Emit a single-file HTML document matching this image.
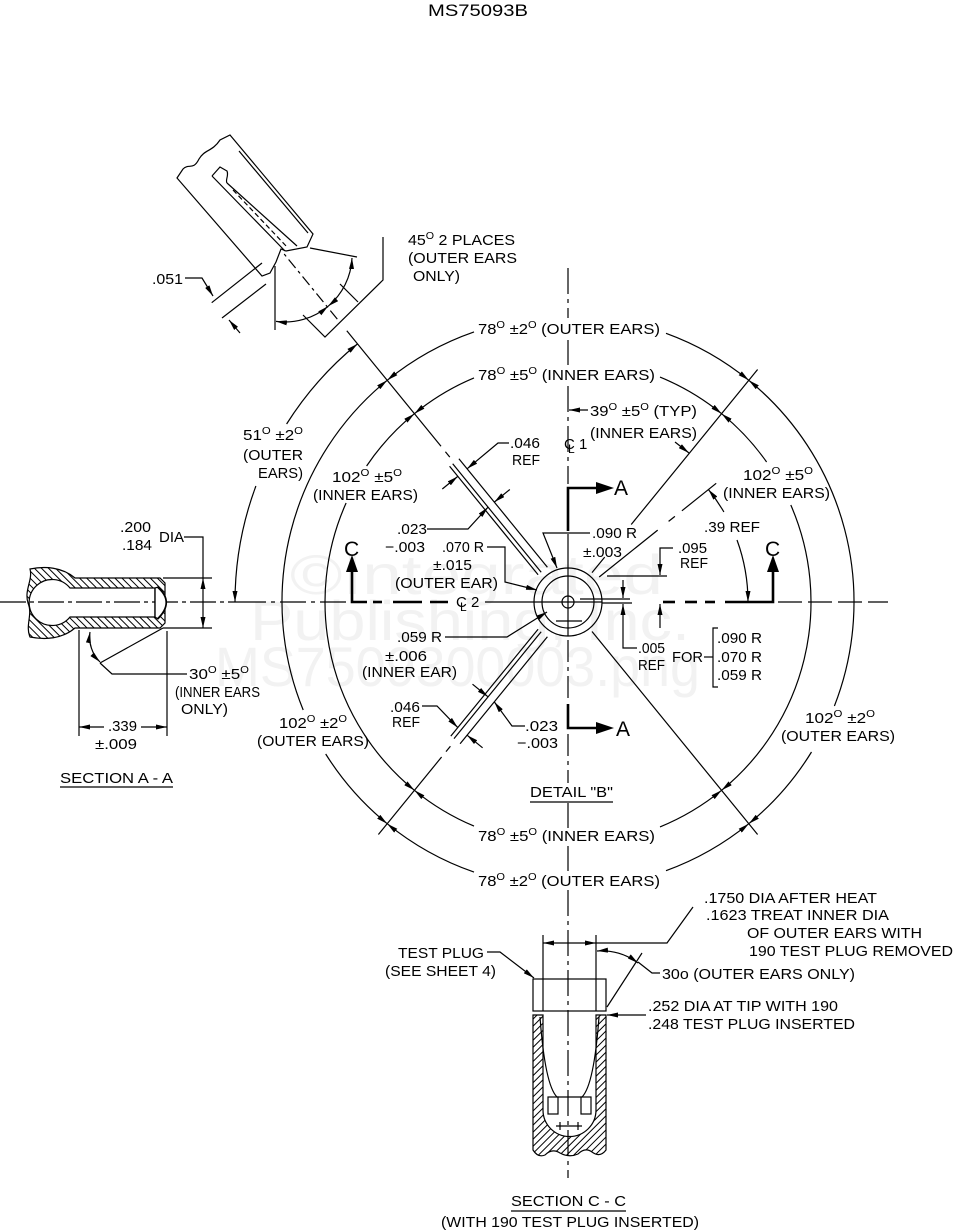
<!DOCTYPE html>
<html><head><meta charset="utf-8"><title>MS75093B</title>
<style>
html,body{margin:0;padding:0;background:#fff;width:953px;height:1231px;overflow:hidden}
svg{display:block}
text{font-family:"Liberation Sans",Arial,sans-serif;font-size:15px;fill:#000;stroke:none}
.wm{fill:#f2f2f2;font-size:56px}
.big{font-size:21px}
</style></head><body>
<svg width="953" height="1231" viewBox="0 0 953 1231" xmlns="http://www.w3.org/2000/svg">
<defs>
<marker id="ar" viewBox="0 0 11 5" refX="11" refY="2.5" markerWidth="11" markerHeight="5" markerUnits="userSpaceOnUse" orient="auto-start-reverse"><path d="M0,0L11,2.5L0,5z" fill="#000"/></marker>
<pattern id="h1" width="5" height="5" patternUnits="userSpaceOnUse" patternTransform="rotate(-45)"><line x1="2.5" y1="0" x2="2.5" y2="5" stroke="#000" stroke-width="1"/></pattern>
<pattern id="h2" width="5" height="5" patternUnits="userSpaceOnUse" patternTransform="rotate(45)"><line x1="2.5" y1="0" x2="2.5" y2="5" stroke="#000" stroke-width="1"/></pattern>
</defs>

<!-- watermark -->
<text class="wm" x="290" y="594" textLength="373" lengthAdjust="spacingAndGlyphs">©Integrated</text>
<text class="wm" x="250" y="640" textLength="440" lengthAdjust="spacingAndGlyphs">Publishing, Inc.</text>
<text class="wm" x="215" y="686" textLength="485" lengthAdjust="spacingAndGlyphs">MS7509300003.png</text>

<!-- title -->
<text x="428" y="16" style="font-size:17px" textLength="100" lengthAdjust="spacingAndGlyphs">MS75093B</text>

<g fill="none" stroke="#000" stroke-width="1.2">
<!-- outer R=286 -->
<path d="M387.2,380.3 A286,286 0 0 1 474,331.9" marker-start="url(#ar)"/>
<path d="M666,333.3 A286,286 0 0 1 748.8,380.3" marker-end="url(#ar)"/>
<path d="M387.2,380.3 A286,286 0 0 0 303.2,710" marker-start="url(#ar)"/>
<path d="M325.7,754 A286,286 0 0 0 387.2,823.7" marker-end="url(#ar)"/>
<path d="M748.8,380.3 A286,286 0 0 1 834.4,706" marker-start="url(#ar)"/>
<path d="M811.5,752 A286,286 0 0 1 748.8,823.7" marker-end="url(#ar)"/>
<path d="M387.2,823.7 A286,286 0 0 0 474,872.1" marker-start="url(#ar)"/>
<path d="M666,870.7 A286,286 0 0 0 748.8,823.7" marker-end="url(#ar)"/>
<!-- inner R=243 -->
<path d="M414.4,413.7 A243,243 0 0 1 474,377.9" marker-start="url(#ar)"/>
<path d="M660,377.1 A243,243 0 0 1 721.6,413.7" marker-end="url(#ar)"/>
<path d="M414.4,413.7 A243,243 0 0 0 366.6,466" marker-start="url(#ar)"/>
<path d="M346.1,503 A243,243 0 0 0 414.4,790.3" marker-end="url(#ar)"/>
<path d="M721.6,413.7 A243,243 0 0 1 766.6,462" marker-start="url(#ar)"/>
<path d="M790.8,505 A243,243 0 0 1 721.6,790.3" marker-end="url(#ar)"/>
<path d="M414.4,790.3 A243,243 0 0 0 474,826.1" marker-start="url(#ar)"/>
<path d="M660,826.9 A243,243 0 0 0 721.6,790.3" marker-end="url(#ar)"/>
<!-- 51 deg arc R=333 -->
<path d="M357.5,343.9 A333,333 0 0 0 286.6,424" marker-start="url(#ar)"/>
<path d="M255.9,486 A333,333 0 0 0 235,602" marker-end="url(#ar)"/>
<!-- .39 REF arc -->
<path d="M708.4,489.5 A180,180 0 0 1 723.9,512" marker-start="url(#ar)"/>
<path d="M737,540 A180,180 0 0 1 748,602" marker-end="url(#ar)"/>
<!-- 39 typ -->
<path d="M588,410 L569,410" marker-end="url(#ar)"/>
<path d="M675,442 L689,453" marker-end="url(#ar)"/>

<!-- NW -->
<line x1="538.1" y1="574.8" x2="449.6" y2="466.3"/>
<line x1="541.2" y1="572.3" x2="452.7" y2="463.8"/>
<line x1="547.4" y1="567.2" x2="458.9" y2="458.7"/>
<line x1="449.8" y1="457.1" x2="445.4" y2="451.7"/>
<line x1="441.0" y1="446.2" x2="346.8" y2="330.8"/>
<line x1="337.3" y1="319.1" x2="283.6" y2="253.3" stroke-dasharray="11 4 3 4"/>
<!-- SW -->
<line x1="538.1" y1="629.2" x2="450.8" y2="736.1"/>
<line x1="541.2" y1="631.7" x2="454.0" y2="738.6"/>
<line x1="547.4" y1="636.8" x2="460.1" y2="743.7"/>
<line x1="450.4" y1="746.2" x2="446.0" y2="751.6"/>
<line x1="441.6" y1="757.0" x2="378.4" y2="834.5"/>
<!-- SE -->
<line x1="592.0" y1="631.5" x2="757.6" y2="834.5"/>
<!-- NE 51 -->
<line x1="592.0" y1="572.6" x2="604.7" y2="557.1"/>
<line x1="631.2" y1="524.5" x2="757.6" y2="369.5"/>
<!-- NE 39 -->
<line x1="599.2" y1="577.0" x2="657.7" y2="530.1"/>
<line x1="668.6" y1="521.4" x2="674.9" y2="516.4"/>
<line x1="681.9" y1="510.8" x2="716.2" y2="483.3"/>

<!-- detail circle -->
<circle cx="568" cy="602" r="34"/>
<circle cx="568" cy="602" r="26"/>
<circle cx="568" cy="602" r="6"/>
<line x1="556" y1="621" x2="582" y2="621"/>

<!-- center lines -->
<line x1="568" y1="268" x2="568" y2="318" stroke-dasharray="26 5 4 5"/>
<line x1="568" y1="340" x2="568" y2="365"/>
<line x1="568" y1="386" x2="568" y2="484" stroke-dasharray="26 5 4 5"/>
<line x1="568" y1="534" x2="568" y2="636"/>
<line x1="568" y1="640" x2="568" y2="702" stroke-dasharray="22 5 4 5"/>
<line x1="568" y1="734" x2="568" y2="783" stroke-dasharray="22 5 4 5"/>
<line x1="568" y1="803" x2="568" y2="828"/>
<line x1="568" y1="846" x2="568" y2="871"/>
<line x1="568" y1="890" x2="568" y2="1178" stroke-dasharray="26 5 4 5"/>

<line x1="0" y1="602" x2="240" y2="602" stroke-dasharray="26 4 4 4"/>
<line x1="240" y1="602" x2="350" y2="602" stroke-dasharray="26 5 4 5"/>
<line x1="485" y1="602" x2="602" y2="602"/>
<line x1="602" y1="603" x2="632" y2="603"/>
<line x1="580" y1="599" x2="630" y2="599"/>
<line x1="778" y1="602" x2="888" y2="602" stroke-dasharray="24 6"/>

<!-- .095 / .005 -->
<line x1="607" y1="576" x2="667" y2="576"/>
<path d="M673,548 L660,548 L660,575" marker-end="url(#ar)"/>
<path d="M660,628 L660,604" marker-end="url(#ar)"/>
<path d="M623,580 L623,598" marker-end="url(#ar)"/>
<path d="M637,648 L623,648 L623,604" marker-end="url(#ar)"/>
<path d="M704,657 L713,657"/>
<path d="M718,628 L713,628 L713,687 L718,687"/>

<!-- leaders center -->
<path d="M590,533 L543,533 L557,568" marker-end="url(#ar)"/>
<path d="M487,547 L505,547 L505,582 L537,590" marker-end="url(#ar)"/>
<path d="M445,637 L507,637 L547,612" marker-end="url(#ar)"/>
<path d="M427,529 L468,529 L488,507.2" marker-end="url(#ar)"/>
<path d="M509,443 L498,443 L467.1,468.8" marker-end="url(#ar)"/>
<path d="M442.3,489 L457.8,476.4" marker-end="url(#ar)"/>
<path d="M509.8,489.5 L494.3,502.1" marker-end="url(#ar)"/>
<path d="M422,706 L437,706 L457.8,727.6" marker-end="url(#ar)"/>
<path d="M482.6,747.8 L467.1,735.2" marker-end="url(#ar)"/>
<path d="M472.5,684.2 L488,696.8" marker-end="url(#ar)"/>
<path d="M525,726 L512,726 L494.3,701.9" marker-end="url(#ar)"/>

<!-- 45 deg detail (top-left) -->
<path d="M177,178 L183,169 C189,163 193,171 199,159 C205,149 212,152 220,140 L230,135 L313,234 L307,247 L286,251 L281,249 L276,262 L270,273 L262,276 Z"/>
<line x1="239" y1="151" x2="308" y2="233"/>
<path d="M212,176 L220,167 L227,171 C229,176 225,180 227,183"/>
<line x1="212" y1="176" x2="285" y2="251"/>
<line x1="227" y1="183" x2="297" y2="246"/>
<line x1="233" y1="190" x2="288" y2="248" stroke-dasharray="5 3"/>
<line x1="275" y1="266" x2="275" y2="330"/>
<line x1="310" y1="248" x2="357" y2="257"/>
<path d="M276,321.4 A67,67 0 0 0 328.1,306.3" marker-start="url(#ar)" marker-end="url(#ar)"/>
<path d="M328.1,306.3 A67,67 0 0 0 352,258" marker-start="url(#ar)" marker-end="url(#ar)"/>
<path d="M383,237 L383,280 L325,337 L303,315"/>
<line x1="358" y1="302" x2="340" y2="284"/>
<line x1="211.7" y1="302.7" x2="262" y2="263"/>
<line x1="222" y1="318" x2="266" y2="284"/>
<path d="M185,278 L202,278 L213,296" marker-end="url(#ar)"/>
<path d="M240,333 L229,320" marker-end="url(#ar)"/>

<!-- Section A-A -->
<path fill="url(#h1)" fill-rule="evenodd" d="M30,569 C45,566 62,567 75,578 L160,578 L165,583 L165,623 L160,628 L75,628 C62,639 45,640 30,637 C25,625 33,615 28,603 C24,590 33,580 30,569 Z M70,588 L155,588 L155,617 L70,617 A23,23 0 1 1 70,588 Z"/>
<path fill="#fff" d="M155,588 L155,617 L158,619 Q175,602 158,587 Z"/>
<line x1="155" y1="588" x2="155" y2="617"/>
<path d="M157,587 Q175,602 157,619"/>
<line x1="163" y1="578" x2="212" y2="578"/>
<line x1="163" y1="628" x2="212" y2="628"/>
<path d="M203,603 L203,578" marker-end="url(#ar)"/>
<path d="M203,603 L203,628" marker-end="url(#ar)"/>
<path d="M184,537 L203,537 L203,578"/>
<line x1="79" y1="630" x2="79" y2="736"/>
<line x1="167" y1="631" x2="167" y2="736"/>
<line x1="163" y1="628" x2="100" y2="663"/>
<path d="M90,632 A35,35 0 0 0 100,662" marker-start="url(#ar)" marker-end="url(#ar)"/>
<path d="M100,663 L112,674 L187,674"/>
<path d="M104,727 L79,727" marker-end="url(#ar)"/>
<path d="M141,727 L167,727" marker-end="url(#ar)"/>
<line x1="60" y1="787" x2="173" y2="787"/>

<!-- Section C-C -->
<rect x="533" y="979" width="73" height="32"/>
<line x1="543" y1="935" x2="543" y2="1011"/>
<line x1="596" y1="935" x2="596" y2="1011"/>
<path d="M569,943 L543,943" marker-end="url(#ar)"/>
<path d="M569,943 L596,943" marker-end="url(#ar)"/>
<path d="M596,943 L667,943 L693,907"/>
<line x1="607" y1="1007" x2="642" y2="953"/>
<path d="M597,951 A60,60 0 0 1 638,963" marker-start="url(#ar)" marker-end="url(#ar)"/>
<path d="M638,962 L652,973 L660,973"/>
<path d="M646,1015 L607,1015" marker-end="url(#ar)"/>
<path d="M487,952 L500,952 L534,978" marker-end="url(#ar)"/>
<path fill="url(#h2)" d="M533,1015 L543,1015 L543,1110 A26.5,26.5 0 0 0 596,1110 L596,1015 L606,1015 L606,1150 Q600,1158 592,1152 Q585,1147 578,1154 Q569,1158 560,1153 Q552,1148 545,1155 Q538,1158 533,1150 Z"/>
<path d="M540,1017 Q545,1085 557,1097 L582,1097 Q594,1085 599,1017"/>
<rect x="548" y="1097" width="10" height="17"/>
<rect x="581" y="1097" width="10" height="17"/>
<line x1="556" y1="1126" x2="582" y2="1126"/>
<line x1="560" y1="1122" x2="560" y2="1130"/>
<line x1="578" y1="1122" x2="578" y2="1130"/>
<line x1="511" y1="1211" x2="626" y2="1211"/>
<line x1="530" y1="802" x2="613" y2="802"/>
</g>

<!-- heavy cutting planes -->
<g fill="none" stroke="#000" stroke-width="2.6">
<path d="M568,531 L568,488 L598,488"/>
<path d="M568,704 L568,728 L598,728"/>
<path d="M352,568 L352,602 L367,602"/>
<path d="M725,602 L773,602 L773,568"/>
<line x1="373" y1="602" x2="382" y2="602"/>
<line x1="393" y1="602" x2="422" y2="602"/>
<line x1="430" y1="602" x2="448" y2="602"/>
<line x1="663" y1="602" x2="675" y2="602"/>
<line x1="685" y1="602" x2="697" y2="602"/>
<line x1="705" y1="602" x2="715" y2="602"/>
</g>
<g fill="#000">
<polygon points="596,482 614,488 596,494"/>
<polygon points="596,722 614,728 596,734"/>
<polygon points="346,572 352,555 358,572"/>
<polygon points="767,572 773,555 779,572"/>
</g>

<!-- TEXT -->
<g>
<text x="408" y="245" textLength="107" lengthAdjust="spacingAndGlyphs">45<tspan dy="-6" font-size="10">O</tspan><tspan dy="6"> 2 PLACES</tspan></text>
<text x="408" y="263" textLength="109" lengthAdjust="spacingAndGlyphs">(OUTER EARS</text>
<text x="413" y="281" textLength="47" lengthAdjust="spacingAndGlyphs">ONLY)</text>
<text x="152" y="284" textLength="31" lengthAdjust="spacingAndGlyphs">.051</text>

<text x="478" y="334" textLength="182" lengthAdjust="spacingAndGlyphs">78<tspan dy="-6" font-size="10">O</tspan><tspan dy="6"> ±2</tspan><tspan dy="-6" font-size="10">O</tspan><tspan dy="6"> (OUTER EARS)</tspan></text>
<text x="478" y="380" textLength="177" lengthAdjust="spacingAndGlyphs">78<tspan dy="-6" font-size="10">O</tspan><tspan dy="6"> ±5</tspan><tspan dy="-6" font-size="10">O</tspan><tspan dy="6"> (INNER EARS)</tspan></text>
<text x="590" y="416" textLength="107" lengthAdjust="spacingAndGlyphs">39<tspan dy="-6" font-size="10">O</tspan><tspan dy="6"> ±5</tspan><tspan dy="-6" font-size="10">O</tspan><tspan dy="6"> (TYP)</tspan></text>
<text x="590" y="438" textLength="107" lengthAdjust="spacingAndGlyphs">(INNER EARS)</text>
<text x="564" y="449">C</text><text x="568" y="453" style="font-size:12px">L</text><text x="579" y="449">1</text>
<text x="510" y="448" textLength="30" lengthAdjust="spacingAndGlyphs">.046</text>
<text x="512" y="465" textLength="28" lengthAdjust="spacingAndGlyphs">REF</text>

<text x="243" y="440" textLength="60" lengthAdjust="spacingAndGlyphs">51<tspan dy="-6" font-size="10">O</tspan><tspan dy="6"> ±2</tspan><tspan dy="-6" font-size="10">O</tspan></text>
<text x="243" y="460" textLength="60" lengthAdjust="spacingAndGlyphs">(OUTER</text>
<text x="258" y="478" textLength="45" lengthAdjust="spacingAndGlyphs">EARS)</text>

<text x="332" y="482" textLength="70" lengthAdjust="spacingAndGlyphs">102<tspan dy="-6" font-size="10">O</tspan><tspan dy="6"> ±5</tspan><tspan dy="-6" font-size="10">O</tspan></text>
<text x="313" y="500" textLength="105" lengthAdjust="spacingAndGlyphs">(INNER EARS)</text>
<text x="743" y="480" textLength="70" lengthAdjust="spacingAndGlyphs">102<tspan dy="-6" font-size="10">O</tspan><tspan dy="6"> ±5</tspan><tspan dy="-6" font-size="10">O</tspan></text>
<text x="723" y="498" textLength="107" lengthAdjust="spacingAndGlyphs">(INNER EARS)</text>
<text x="704" y="532" textLength="56" lengthAdjust="spacingAndGlyphs">.39 REF</text>

<text x="120" y="532" textLength="31" lengthAdjust="spacingAndGlyphs">.200</text>
<text x="122" y="550" textLength="30" lengthAdjust="spacingAndGlyphs">.184</text>
<text x="159" y="542" textLength="25" lengthAdjust="spacingAndGlyphs">DIA</text>

<text class="big" x="344" y="556">C</text>
<text class="big" x="765" y="556">C</text>
<text class="big" x="614" y="495">A</text>
<text class="big" x="616" y="736">A</text>

<text x="592" y="538" textLength="45" lengthAdjust="spacingAndGlyphs">.090 R</text>
<text x="583" y="557" textLength="39" lengthAdjust="spacingAndGlyphs">±.003</text>
<text x="397" y="534" textLength="30" lengthAdjust="spacingAndGlyphs">.023</text>
<text x="385" y="552" textLength="40" lengthAdjust="spacingAndGlyphs">−.003</text>
<text x="442" y="552" textLength="42" lengthAdjust="spacingAndGlyphs">.070 R</text>
<text x="433" y="570" textLength="39" lengthAdjust="spacingAndGlyphs">±.015</text>
<text x="395" y="588" textLength="103" lengthAdjust="spacingAndGlyphs">(OUTER EAR)</text>
<text x="678" y="553" textLength="29" lengthAdjust="spacingAndGlyphs">.095</text>
<text x="680" y="568" textLength="28" lengthAdjust="spacingAndGlyphs">REF</text>
<text x="456" y="607">C</text><text x="460" y="611" style="font-size:12px">L</text><text x="471" y="607">2</text>

<text x="638" y="653" textLength="27" lengthAdjust="spacingAndGlyphs">.005</text>
<text x="638" y="670" textLength="27" lengthAdjust="spacingAndGlyphs">REF</text>
<text x="672" y="662" textLength="31" lengthAdjust="spacingAndGlyphs">FOR</text>
<text x="717" y="643" textLength="45" lengthAdjust="spacingAndGlyphs">.090 R</text>
<text x="717" y="662" textLength="45" lengthAdjust="spacingAndGlyphs">.070 R</text>
<text x="717" y="680" textLength="45" lengthAdjust="spacingAndGlyphs">.059 R</text>

<text x="397" y="642" textLength="45" lengthAdjust="spacingAndGlyphs">.059 R</text>
<text x="385" y="661" textLength="42" lengthAdjust="spacingAndGlyphs">±.006</text>
<text x="362" y="677" textLength="95" lengthAdjust="spacingAndGlyphs">(INNER EAR)</text>
<text x="390" y="712" textLength="30" lengthAdjust="spacingAndGlyphs">.046</text>
<text x="392" y="727" textLength="28" lengthAdjust="spacingAndGlyphs">REF</text>
<text x="525" y="731" textLength="33" lengthAdjust="spacingAndGlyphs">.023</text>
<text x="517" y="748" textLength="41" lengthAdjust="spacingAndGlyphs">−.003</text>

<text x="189" y="679" textLength="60" lengthAdjust="spacingAndGlyphs">30<tspan dy="-6" font-size="10">O</tspan><tspan dy="6"> ±5</tspan><tspan dy="-6" font-size="10">O</tspan></text>
<text x="175" y="697" textLength="85" lengthAdjust="spacingAndGlyphs">(INNER EARS</text>
<text x="181" y="714" textLength="47" lengthAdjust="spacingAndGlyphs">ONLY)</text>
<text x="108" y="731" textLength="29" lengthAdjust="spacingAndGlyphs">.339</text>
<text x="95" y="749" textLength="42" lengthAdjust="spacingAndGlyphs">±.009</text>
<text x="60" y="783" textLength="113" lengthAdjust="spacingAndGlyphs">SECTION  A - A</text>

<text x="279" y="728" textLength="68" lengthAdjust="spacingAndGlyphs">102<tspan dy="-6" font-size="10">O</tspan><tspan dy="6"> ±2</tspan><tspan dy="-6" font-size="10">O</tspan></text>
<text x="257" y="746" textLength="112" lengthAdjust="spacingAndGlyphs">(OUTER EARS)</text>
<text x="805" y="723" textLength="70" lengthAdjust="spacingAndGlyphs">102<tspan dy="-6" font-size="10">O</tspan><tspan dy="6"> ±2</tspan><tspan dy="-6" font-size="10">O</tspan></text>
<text x="781" y="741" textLength="114" lengthAdjust="spacingAndGlyphs">(OUTER EARS)</text>

<text x="530" y="797" textLength="83" lengthAdjust="spacingAndGlyphs">DETAIL "B"</text>
<text x="478" y="841" textLength="177" lengthAdjust="spacingAndGlyphs">78<tspan dy="-6" font-size="10">O</tspan><tspan dy="6"> ±5</tspan><tspan dy="-6" font-size="10">O</tspan><tspan dy="6"> (INNER EARS)</tspan></text>
<text x="478" y="886" textLength="182" lengthAdjust="spacingAndGlyphs">78<tspan dy="-6" font-size="10">O</tspan><tspan dy="6"> ±2</tspan><tspan dy="-6" font-size="10">O</tspan><tspan dy="6"> (OUTER EARS)</tspan></text>

<text x="704" y="903" textLength="173" lengthAdjust="spacingAndGlyphs">.1750 DIA AFTER HEAT</text>
<text x="706" y="920" textLength="183" lengthAdjust="spacingAndGlyphs">.1623 TREAT  INNER DIA</text>
<text x="747" y="938" textLength="175" lengthAdjust="spacingAndGlyphs">OF OUTER EARS WITH</text>
<text x="749" y="956" textLength="204" lengthAdjust="spacingAndGlyphs">190 TEST PLUG REMOVED</text>
<text x="662" y="979" textLength="193" lengthAdjust="spacingAndGlyphs">30o (OUTER EARS ONLY)</text>
<text x="648" y="1011" textLength="190" lengthAdjust="spacingAndGlyphs">.252 DIA AT TIP WITH 190</text>
<text x="648" y="1029" textLength="207" lengthAdjust="spacingAndGlyphs">.248 TEST PLUG INSERTED</text>
<text x="398" y="958" textLength="86" lengthAdjust="spacingAndGlyphs">TEST PLUG</text>
<text x="385" y="976" textLength="111" lengthAdjust="spacingAndGlyphs">(SEE SHEET 4)</text>
<text x="511" y="1206" textLength="115" lengthAdjust="spacingAndGlyphs">SECTION  C - C</text>
<text x="441" y="1227" textLength="258" lengthAdjust="spacingAndGlyphs">(WITH 190 TEST PLUG INSERTED)</text>
</g>
</svg>
</body></html>
